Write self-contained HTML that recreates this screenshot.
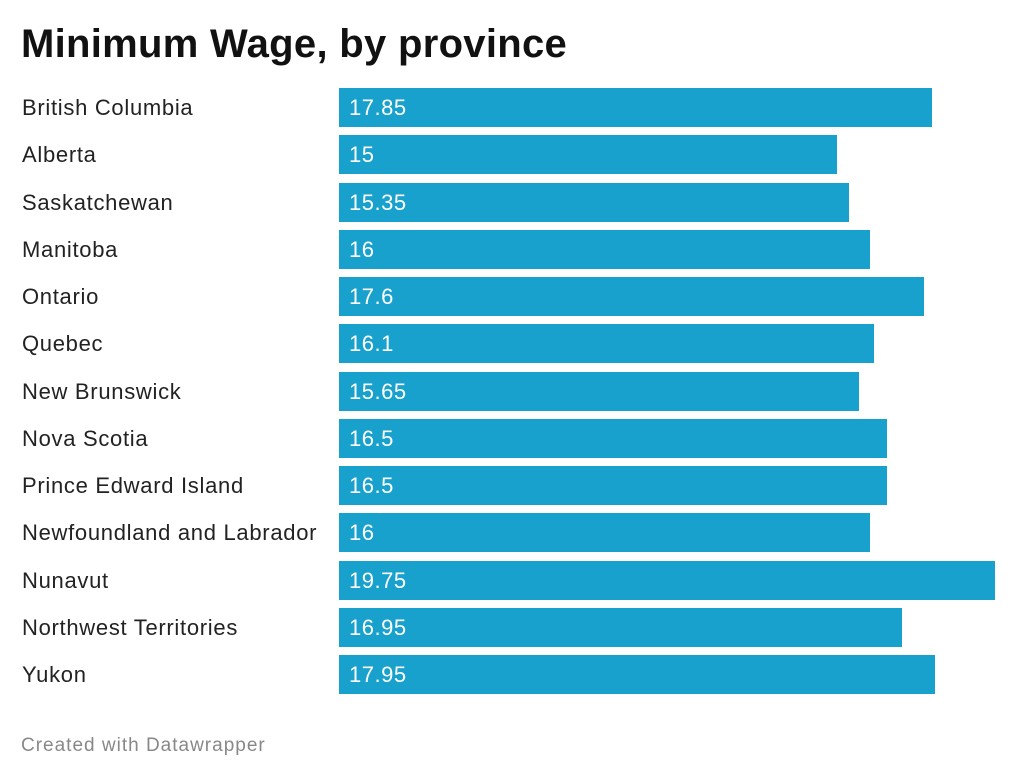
<!DOCTYPE html>
<html><head><style>
body{margin:0;width:1024px;height:780px;background:#fff;font-family:"Liberation Sans",sans-serif;position:relative;overflow:hidden}
.t{position:absolute;left:21px;top:22px;font-size:40px;font-weight:bold;color:#111;letter-spacing:0.3px}
.l{position:absolute;left:22px;font-size:22px;color:#222;line-height:40px;letter-spacing:0.7px}
.b{position:absolute;left:339px;height:39px;background:#18a1cd;color:#fff;font-size:22px;line-height:39px;box-sizing:border-box;padding-left:10px;letter-spacing:0.5px}
.f{position:absolute;left:21px;top:735px;font-size:19px;color:#888;letter-spacing:1px}
</style></head><body>
<div class="t">Minimum Wage, by province</div>
<div id="c"></div>
<div class="f">Created with Datawrapper</div>
<script>
var d=[["British Columbia",17.85],["Alberta",15],["Saskatchewan",15.35],["Manitoba",16],["Ontario",17.6],["Quebec",16.1],["New Brunswick",15.65],["Nova Scotia",16.5],["Prince Edward Island",16.5],["Newfoundland and Labrador",16],["Nunavut",19.75],["Northwest Territories",16.95],["Yukon",17.95]];
var h="";d.forEach(function(r,i){var y=88+i*47.27;h+='<div class="l" style="top:'+y+'px">'+r[0]+'</div><div class="b" style="top:'+y+'px;width:'+(r[1]*33.215)+'px">'+r[1]+'</div>';});
document.getElementById("c").innerHTML=h;
</script>
</body></html>
